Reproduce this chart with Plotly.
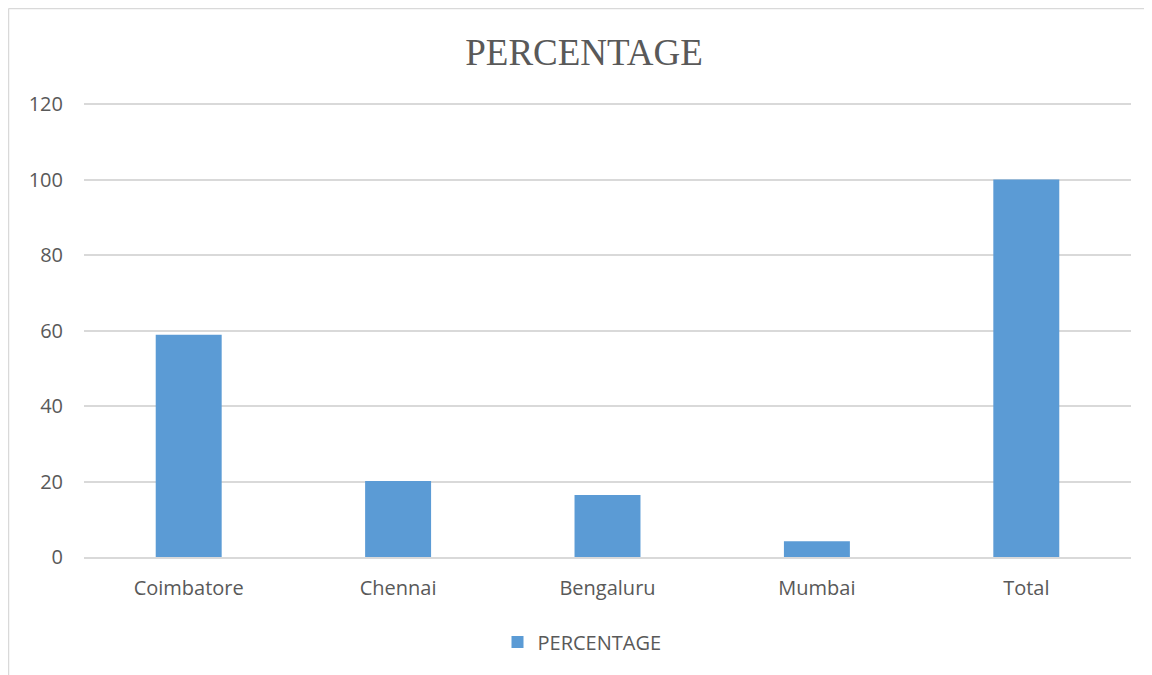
import plotly.graph_objects as go

categories = ["Coimbatore", "Chennai", "Bengaluru", "Mumbai", "Total"]
percentage = [58.9, 20.1, 16.4, 4.2, 100]
y_ticks = [0, 20, 40, 60, 80, 100, 120]

# page has an 8px body margin; compensate so the plot sits where the reference has it
OFF = 8
W, H = 1152 - OFF, 675 - OFF
PLOT_TOP, PLOT_BOTTOM = 89, 557   # page pixels
L, R, T, B = 84 - OFF, 21, PLOT_TOP - OFF, 675 - PLOT_BOTTOM
pw, ph = W - L - R, H - T - B
YMAX = 120 * ph / (PLOT_BOTTOM - 104)  # 120 gridline at page y=104

def px(x):  # page x -> paper x
    return (x - OFF - L) / pw

def py(y):  # page y -> paper y
    return (H - B - (y - OFF)) / ph

fig = go.Figure()
fig.add_trace(go.Bar(
    x=categories, y=percentage, name="PERCENTAGE",
    marker=dict(color="#5B9BD5", line=dict(width=0)),
    showlegend=True,
))

grey = "#D9D9D9"
fig.update_layout(
    width=W, height=H,
    margin=dict(l=L, r=R, t=T, b=B),
    paper_bgcolor="white", plot_bgcolor="white",
    bargap=0.685,
    title=dict(text="PERCENTAGE", x=(584 - OFF) / W, xanchor="center", y=1 - (52 - OFF) / H, yanchor="middle",
               font=dict(family="Liberation Serif", size=37, color="#595959")),
    font=dict(family="Open Sans", size=20, color="#595959"),
    xaxis=dict(showgrid=False, showline=True, linecolor=grey, linewidth=1.5,
               tickfont=dict(size=20, color="#595959"), ticks="", ticklabelstandoff=12),
    yaxis=dict(range=[0, YMAX], tickvals=y_ticks, showgrid=True, gridcolor=grey, gridwidth=1.5,
               zeroline=False, showline=False, ticks="", ticklabelstandoff=20,
               tickfont=dict(size=20, color="#595959")),
    legend=dict(orientation="h", x=px(582), xanchor="center", y=py(642), yanchor="middle",
                font=dict(size=20, color="#595959"), itemwidth=30),
    shapes=[
        dict(type="line", xref="paper", yref="paper", x0=px(8.5), x1=px(8.5), y0=py(8.5), y1=py(680),
             line=dict(color=grey, width=1.5)),
        dict(type="line", xref="paper", yref="paper", x0=px(8.5), x1=px(1160), y0=py(8.5), y1=py(8.5),
             line=dict(color=grey, width=1.5)),
    ],
)

fig.write_html("out.html")
